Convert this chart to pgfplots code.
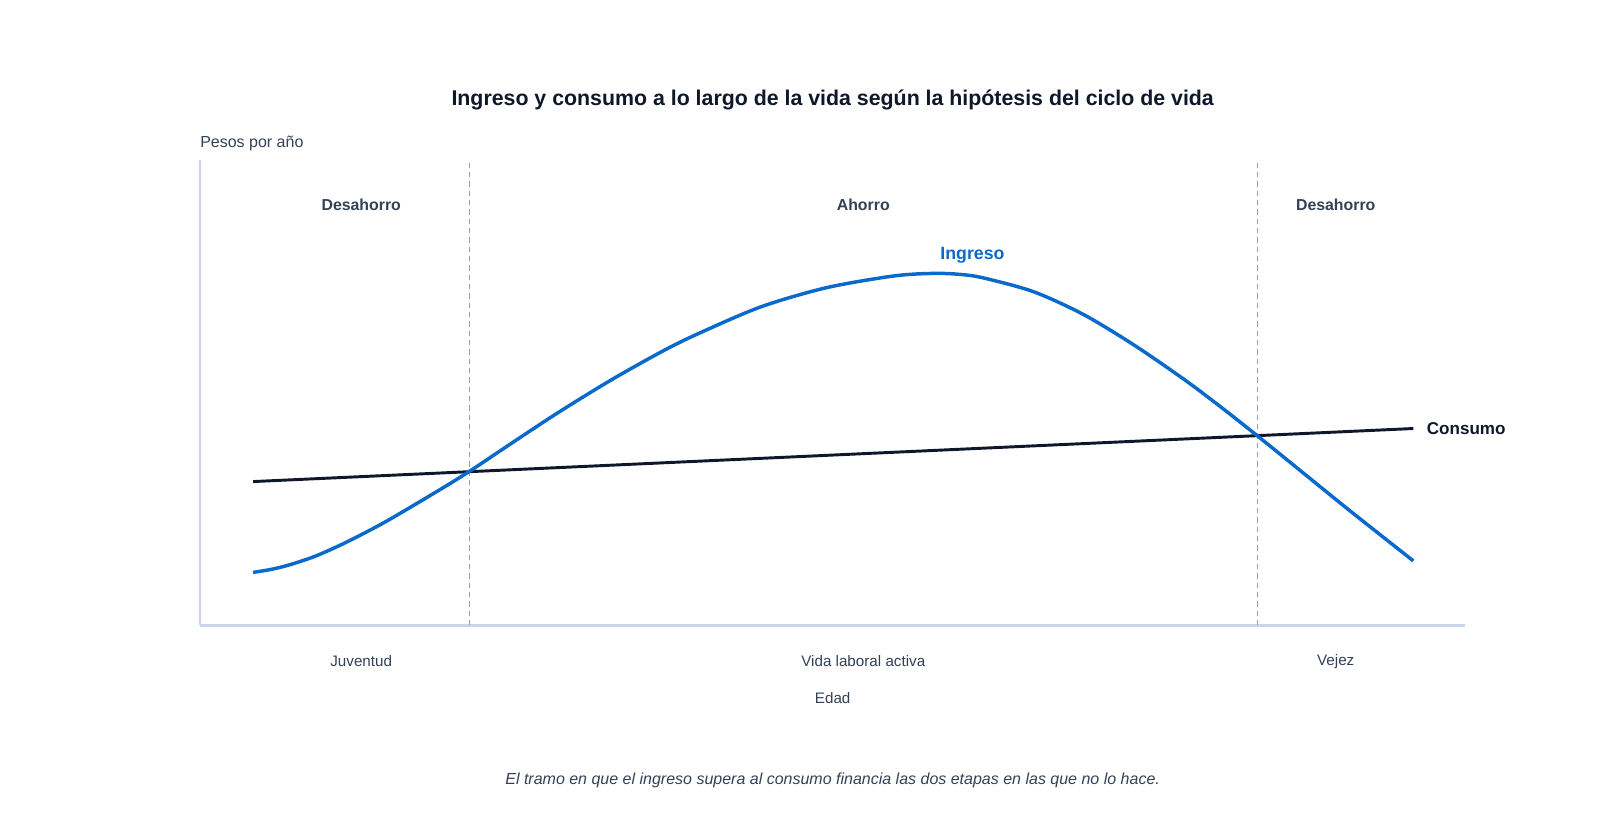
\documentclass[border=0pt]{standalone}
\usepackage{pgfplots}
\pgfplotsset{compat=1.18}
\usepackage{fontspec}
\setmainfont{Liberation Sans}

\definecolor{ingreso}{HTML}{0A6ACB}
\definecolor{consumo}{HTML}{0F172A}
\definecolor{txt}{HTML}{334155}
\definecolor{axisline}{HTML}{C8D5EA}
\definecolor{guide}{HTML}{8DA2BD}

\begin{document}
\begin{tikzpicture}
  % data units = screen px of the reference (1 unit = 0.7653pt), axis box at (196,613)
  \useasboundingbox (-150pt,-151.15pt) rectangle (1050pt,469.1pt);
  \begin{axis}[
    scale only axis,
    width=949pt,
    height=349pt,
    xmin=0, xmax=1240,
    ymin=0, ymax=456,
    axis x line*=bottom,
    axis y line*=left,
    axis line style={draw=axisline, line width=1.6pt, -},
    xtick=\empty, ytick=\empty,
    clip=false,
  ]
    % phase boundaries
    \addplot[guide, line width=0.8pt, dash pattern=on 4pt off 3pt] coordinates {(264,0) (264,456)};
    \addplot[guide, line width=0.8pt, dash pattern=on 4pt off 3pt] coordinates {(1036,0) (1036,456)};

    % consumo
    \addplot[consumo, line width=2.2pt] coordinates {(52,141) (1189,193)};

    % ingreso
    \addplot[ingreso, line width=2.6pt, smooth] coordinates {
      (52,52) (70,55) (88,59.5) (112,67.5) (137,78.5) (161,90.5)
      (186,104) (235,133) (264,151)
      (300,175) (350,208) (402,240) (450,267) (484,284) (549,312)
      (614,331) (680,342.5) (719,345) (745,344) (768,340.5) (817,327)
      (866,304.6) (915,275) (964,241.4) (1000,214.4) (1036,186)
      (1078,152) (1127,112.3) (1189,63.3)
    };

    \node[font=\fontsize{16}{19}\selectfont\bfseries, text=consumo] at (axis cs:620,515) {Ingreso y consumo a lo largo de la vida según la hipótesis del ciclo de vida};
    \node[font=\fontsize{12}{14}\selectfont, text=txt, anchor=west, inner sep=0pt] at (axis cs:0,472) {Pesos por año};

    \node[font=\fontsize{11.9}{14}\selectfont\bfseries, text=txt] at (axis cs:158,412) {Desahorro};
    \node[font=\fontsize{11.9}{14}\selectfont\bfseries, text=txt] at (axis cs:650,412) {Ahorro};
    \node[font=\fontsize{11.9}{14}\selectfont\bfseries, text=txt] at (axis cs:1113,412) {Desahorro};

    \node[font=\fontsize{13.3}{16}\selectfont\bfseries, text=ingreso] at (axis cs:757,363) {Ingreso};
    \node[font=\fontsize{12.8}{15}\selectfont\bfseries, text=consumo, anchor=west, inner sep=0pt] at (axis cs:1202,193) {Consumo};

    \node[font=\fontsize{11.4}{14}\selectfont, text=txt] at (axis cs:158,-35) {Juventud};
    \node[font=\fontsize{11.4}{14}\selectfont, text=txt] at (axis cs:650,-35) {Vida laboral activa};
    \node[font=\fontsize{11.4}{14}\selectfont, text=txt] at (axis cs:1113,-35) {Vejez};
    \node[font=\fontsize{11.4}{14}\selectfont, text=txt] at (axis cs:620,-71) {Edad};

    \node[font=\fontsize{12}{14}\selectfont\itshape, text=txt] at (axis cs:620,-152) {El tramo en que el ingreso supera al consumo financia las dos etapas en las que no lo hace.};
  \end{axis}
\end{tikzpicture}
\end{document}
